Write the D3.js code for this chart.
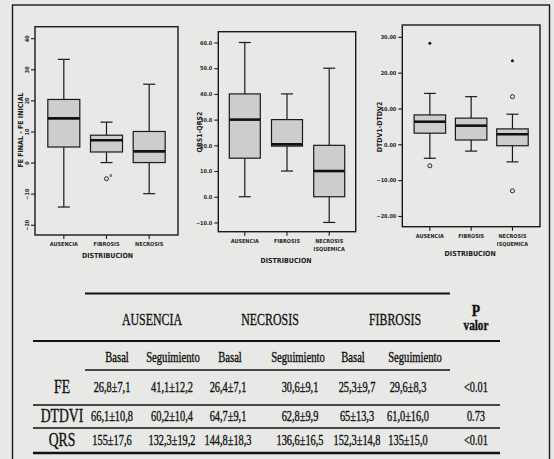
<!DOCTYPE html>
<html>
<head>
<meta charset="UTF-8">
<title>Distribucion</title>
<style>
  body { margin: 0; background: #e8e8e6; }
  svg { display: block; }
  .frame { fill: none; stroke: #1a1a1a; stroke-width: 1.4px; }
  .box { fill: #cdcdcb; stroke: #1a1a1a; stroke-width: 1.2px; }
  .whisk { stroke: #1a1a1a; stroke-width: 1.2px; }
  .med { stroke: #111; stroke-width: 2.6px; }
  .axis text { font-family: "Liberation Sans Narrow", "DejaVu Sans Condensed", sans-serif; font-weight: bold; font-size: 5.5px; fill: #2a2a2a; }
  .axis line { stroke: #1a1a1a; stroke-width: 1.1px; }
  .axis path { display: none; }
  .atitle { font-family: "Liberation Sans Narrow", "DejaVu Sans Condensed", sans-serif; font-weight: bold; font-size: 7px; fill: #222; }
  .tab { font-family: "Liberation Serif", "DejaVu Serif", serif; fill: #111; stroke: #111; stroke-width: 0.35px; text-anchor: middle; }
</style>
<script src="https://cdn.jsdelivr.net/npm/d3@7"></script>
</head>
<body>
<svg width="554" height="459"></svg>
<script>
// ---- chart 1: FE FINAL - FE INICIAL
var feCats = [["AUSENCIA"], ["FIBROSIS"], ["NECROSIS"]];
var feLow  = [-14.3, 0, -10];
var feQ1   = [5, 3.4, 0];
var feMed  = [14.2, 7.2, 3.6];
var feQ3   = [20.3, 8.8, 10];
var feHigh = [33.2, 13, 25.2];
var feOut  = [[], [-5.2], []];
var feStar = [[], [], []];
var feTicks = [-20, -10, 0, 10, 20, 30, 40];

// ---- chart 2: QRS1-QRS2
var qrsCats = [["AUSENCIA"], ["FIBROSIS"], ["NECROSIS", "ISQUEMICA"]];
var qrsLow  = [0, 10, -10];
var qrsQ1   = [15, 19.7, 0];
var qrsMed  = [30, 20.4, 10];
var qrsQ3   = [40, 30, 20];
var qrsHigh = [60, 40, 50];
var qrsTicks = [-10, 0, 10, 20, 30, 40, 50, 60];

// ---- chart 3: DTDV1-DTDV2
var dtCats = [["AUSENCIA"], ["FIBROSIS"], ["NECROSIS", "ISQUEMICA"]];
var dtLow  = [-3.9, -1.9, -4.9];
var dtQ1   = [3.1, 1.2, -0.4];
var dtMed  = [6.3, 5.2, 2.8];
var dtQ3   = [8.2, 7.3, 4.3];
var dtHigh = [14.2, 13.3, 8.4];
var dtOut  = [[-6], [], [13.3, -13]];
var dtStar = [[28.2], [], [23.3]];
var dtTicks = [-20, -10, 0, 10, 20, 30];

// ---- table
var tabGroups = ["AUSENCIA", "NECROSIS", "FIBROSIS"];
var tabSub = ["Basal", "Seguimiento", "Basal", "Seguimiento", "Basal", "Seguimiento"];
var tabRows = ["FE", "DTDVI", "QRS"];
var feVals    = ["26,8±7,1", "41,1±12,2", "26,4±7,1", "30,6±9,1", "25,3±9,7", "29,6±8,3"];
var dtdviVals = ["66,1±10,8", "60,2±10,4", "64,7±9,1", "62,8±9,9", "65±13,3", "61,0±16,0"];
var qrsVals   = ["155±17,6", "132,3±19,2", "144,8±18,3", "136,6±16,5", "152,3±14,8", "135±15,0"];
var pVals = ["<0.01", "0.73", "<0.01"];

var svg = d3.select("svg");

// outer border of the figure
svg.append("rect").attr("class", "frame")
  .attr("x", 12.5).attr("y", 5).attr("width", 537).attr("height", 470);

function boxplot(c) {
  var g = svg.append("g");
  var x = d3.scalePoint().domain(d3.range(c.cats.length))
    .range([c.x0, c.x1]).padding(c.pad);
  var y = d3.scaleLinear().domain(c.dom).range([c.y1, c.y0]);
  var bw = c.bw;

  g.append("rect").attr("class", "frame")
    .attr("x", c.x0).attr("y", c.y0).attr("width", c.x1 - c.x0).attr("height", c.y1 - c.y0);

  var ya = g.append("g").attr("class", "axis").attr("transform", "translate(" + c.x0 + ",0)")
    .call(d3.axisLeft(y).tickValues(c.ticks).tickSize(4).tickPadding(2).tickFormat(c.fmt));
  if (c.rotTicks) {
    ya.selectAll("text").attr("x", -7)
      .attr("transform", "rotate(-90,-7,0)").style("text-anchor", "middle")
      .attr("dy", "0.2em");
  }

  var xa = g.append("g").attr("class", "axis").attr("transform", "translate(0," + c.y1 + ")");
  c.cats.forEach(function (lab, i) {
    xa.append("line").attr("x1", x(i)).attr("x2", x(i)).attr("y1", 0).attr("y2", 4);
    lab.forEach(function (s, k) {
      xa.append("text").attr("x", x(i)).attr("y", 11 + k * 8.5)
        .style("text-anchor", "middle").text(s);
    });
  });

  g.append("text").attr("class", "atitle")
    .attr("transform", "translate(" + c.ytx + "," + c.yty + ") rotate(-90)")
    .style("text-anchor", "middle").text(c.ytitle);
  g.append("text").attr("class", "atitle")
    .attr("x", (c.x0 + c.x1) / 2 + c.xtdx).attr("y", c.xty)
    .style("text-anchor", "middle").text("DISTRIBUCION");

  c.cats.forEach(function (d, i) {
    var cx = x(i);
    g.append("line").attr("class", "whisk")
      .attr("x1", cx).attr("x2", cx).attr("y1", y(c.high[i])).attr("y2", y(c.q3[i]));
    g.append("line").attr("class", "whisk")
      .attr("x1", cx).attr("x2", cx).attr("y1", y(c.q1[i])).attr("y2", y(c.low[i]));
    [c.high[i], c.low[i]].forEach(function (v) {
      g.append("line").attr("class", "whisk")
        .attr("x1", cx - 6).attr("x2", cx + 6).attr("y1", y(v)).attr("y2", y(v));
    });
    g.append("rect").attr("class", "box")
      .attr("x", cx - bw / 2).attr("y", y(c.q3[i]))
      .attr("width", bw).attr("height", y(c.q1[i]) - y(c.q3[i]));
    g.append("line").attr("class", "med")
      .attr("x1", cx - bw / 2).attr("x2", cx + bw / 2)
      .attr("y1", y(c.med[i])).attr("y2", y(c.med[i]));
    (c.out ? c.out[i] : []).forEach(function (v) {
      g.append("circle").attr("cx", cx).attr("cy", y(v)).attr("r", 2)
        .attr("fill", "none").attr("stroke", "#222").attr("stroke-width", 1);
      if (c.outLabel) {
        g.append("text").attr("x", cx + 3).attr("y", y(v) - 2)
          .style("font-family", "Liberation Sans Narrow").style("font-size", "5px")
          .style("font-weight", "bold").attr("fill", "#333").text(c.outLabel);
      }
    });
    (c.star ? c.star[i] : []).forEach(function (v) {
      g.append("circle").attr("cx", cx).attr("cy", y(v)).attr("r", 1.5).attr("fill", "#111");
    });
  });
}

boxplot({
  cats: feCats, low: feLow, q1: feQ1, med: feMed, q3: feQ3, high: feHigh,
  out: feOut, star: feStar, outLabel: "8",
  x0: 35, x1: 178, y0: 26.7, y1: 235, dom: [-23.3, 43.7], pad: 0.675, bw: 32,
  ticks: feTicks, fmt: d3.format("d"), rotTicks: true,
  ytitle: "FE FINAL - FE INICIAL", ytx: 23, yty: 130, xtdx: 1, xty: 258
});

boxplot({
  cats: qrsCats, low: qrsLow, q1: qrsQ1, med: qrsMed, q3: qrsQ3, high: qrsHigh,
  x0: 218.3, x1: 355.7, y0: 31.7, y1: 231.7, dom: [-13.6, 64.2], pad: 0.628, bw: 31,
  ticks: qrsTicks, fmt: d3.format(".1f"),
  ytitle: "QRS1-QRS2", ytx: 202, yty: 132, xtdx: -1, xty: 263
});

boxplot({
  cats: dtCats, low: dtLow, q1: dtQ1, med: dtMed, q3: dtQ3, high: dtHigh,
  out: dtOut, star: dtStar,
  x0: 402.3, x1: 540, y0: 25, y1: 226.7, dom: [-23, 33.3], pad: 0.667, bw: 31.5,
  ticks: dtTicks, fmt: d3.format(".2f"),
  ytitle: "DTDV1-DTDV2", ytx: 382, yty: 127, xtdx: -1, xty: 256
});

// ---- table
var tab = svg.append("g");
function ttext(x, y, s, size, sx, weight) {
  tab.append("text").attr("class", "tab")
    .attr("transform", "translate(" + x + "," + y + ") scale(" + sx + ",1)")
    .style("font-size", size + "px").style("font-weight", weight || "normal")
    .text(s);
}
function hline(y, x1, x2, w) {
  tab.append("line").attr("x1", x1).attr("x2", x2).attr("y1", y).attr("y2", y)
    .attr("stroke", "#111").attr("stroke-width", w);
}

var groupX = [152, 270, 395];
var subX = [117, 173, 230, 298, 353, 415];
var valX = [112, 172, 228, 300, 357, 408];
var rowY = [393, 421.5, 446];
var pX = 476;

hline(293.5, 85, 450, 2.2);
hline(341, 33, 500, 2.2);
hline(370, 85, 450, 1.6);
hline(405, 33, 500, 1.6);
hline(428, 33, 500, 1.6);
hline(453, 33, 500, 2.6);

tabGroups.forEach(function (s, i) { ttext(groupX[i], 325, s, 17.5, 0.68); });
ttext(pX, 316, "P", 16, 0.85, "bold");
ttext(pX, 330, "valor", 14, 0.8, "bold");
tabSub.forEach(function (s, i) { ttext(subX[i], 362, s, 14, 0.76); });

var rowVals = [feVals, dtdviVals, qrsVals];
tabRows.forEach(function (r, j) {
  ttext(62, rowY[j], r, 18, 0.76);
  rowVals[j].forEach(function (s, i) { ttext(valX[i], rowY[j] - 1, s, 14, 0.74); });
  ttext(pX, rowY[j] - 1, pVals[j], 14, 0.74);
});
</script>
</body>
</html>
